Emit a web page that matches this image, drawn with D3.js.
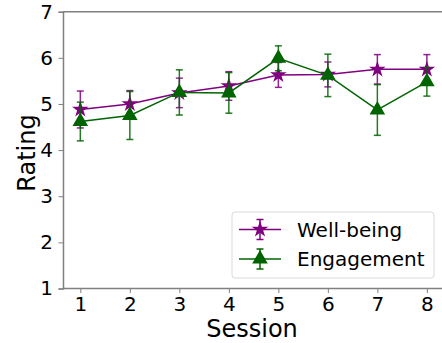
<!DOCTYPE html>
<html><head><meta charset="utf-8">
<script src="https://cdn.jsdelivr.net/npm/d3@7"></script>
<style>body{margin:0;background:#fff}svg{display:block;font-family:"DejaVu Sans",sans-serif}</style>
</head><body>
<svg id="c" width="442" height="343"></svg>
<script>
const sessions = [1,2,3,4,5,6,7,8];
const wellbeing = [4.88,5.00,5.24,5.39,5.63,5.64,5.75,5.75];
const wellbeingErr = [0.40,0.29,0.32,0.31,0.27,0.27,0.32,0.32];
const engagement = [4.62,4.75,5.25,5.24,5.99,5.62,4.87,5.48];
const engagementErr = [0.42,0.52,0.49,0.44,0.27,0.46,0.55,0.31];
const yTicks = [1,2,3,4,5,6,7];
const seriesNames = ["Well-being","Engagement"];

const svg = d3.select("#c");
const x = d3.scaleLinear().domain([0.65,8.35]).range([63,444.2]);
const y = d3.scaleLinear().domain([1,7]).range([288.5,11.7]);
const spine = "#808080";

svg.append("line").attr("x1",63).attr("x2",442).attr("y1",11.7).attr("y2",11.7).attr("stroke",spine).attr("stroke-width",1.5);
const gx = svg.append("g").attr("transform","translate(0,288.5)")
  .call(d3.axisBottom(x).tickValues(sessions).tickSize(4.5).tickPadding(4).tickFormat(d3.format("d")));
const gy = svg.append("g").attr("transform","translate(63,0)")
  .call(d3.axisLeft(y).tickValues(yTicks).tickSize(4.5).tickPadding(5.5).tickFormat(d3.format("d")));
[gx,gy].forEach(g=>{
  g.select(".domain").attr("stroke",spine).attr("stroke-width",1.5);
  g.selectAll(".tick line").attr("stroke",spine).attr("stroke-width",1);
  g.selectAll(".tick text").attr("fill","#000").style("font-size","20px").style("font-family","DejaVu Sans");
});
gx.select(".domain").attr("d","M63,0H442");

svg.append("text").attr("x",252).attr("y",337).attr("text-anchor","middle").style("font-size","24px").text("Session");
svg.append("text").attr("transform","translate(34.5,153) rotate(-90)").attr("text-anchor","middle").style("font-size","24px").text("Rating");

const star = d3.symbol().type(d3.symbolStar).size(85)();
const tri = d3.symbol().type(d3.symbolTriangle).size(105)();

function drawSeries(vals, errs, color, sym){
  const g = svg.append("g");
  sessions.forEach((s,i)=>{
    const xx = x(s), y0 = y(vals[i]-errs[i]), y1 = y(vals[i]+errs[i]);
    g.append("line").attr("x1",xx).attr("x2",xx).attr("y1",y0).attr("y2",y1).attr("stroke",color).attr("stroke-width",1.5).attr("opacity",0.85);
    [y0,y1].forEach(yy=>g.append("line").attr("x1",xx-3.5).attr("x2",xx+3.5).attr("y1",yy).attr("y2",yy).attr("stroke",color).attr("stroke-width",1.5).attr("opacity",0.85));
  });
  g.append("path").datum(sessions.map((s,i)=>[s,vals[i]]))
    .attr("d",d3.line().x(d=>x(d[0])).y(d=>y(d[1])))
    .attr("fill","none").attr("stroke",color).attr("stroke-width",1.5);
  sessions.forEach((s,i)=>{
    g.append("path").attr("d",sym).attr("transform",`translate(${x(s)},${y(vals[i])})`).attr("fill",color);
  });
}
drawSeries(wellbeing, wellbeingErr, "#800080", star);
drawSeries(engagement, engagementErr, "#006400", tri);

const lg = svg.append("g");
lg.append("rect").attr("x",232).attr("y",212).attr("width",202).attr("height",66).attr("rx",3)
  .attr("fill","#fff").attr("fill-opacity",0.8).attr("stroke","#d9d9d9").attr("stroke-width",1);
const cols = ["#800080","#006400"], syms=[star,tri];
seriesNames.forEach((n,i)=>{
  const yy = 229.5 + i*29.5;
  lg.append("line").attr("x1",239).attr("x2",281).attr("y1",yy).attr("y2",yy).attr("stroke",cols[i]).attr("stroke-width",1.5);
  lg.append("line").attr("x1",260).attr("x2",260).attr("y1",yy-10).attr("y2",yy+10).attr("stroke",cols[i]).attr("stroke-width",1.5);
  [yy-10,yy+10].forEach(v=>lg.append("line").attr("x1",256.5).attr("x2",263.5).attr("y1",v).attr("y2",v).attr("stroke",cols[i]).attr("stroke-width",1.5));
  lg.append("path").attr("d",syms[i]).attr("transform",`translate(260,${yy})`).attr("fill",cols[i]);
  lg.append("text").attr("x",297).attr("y",yy+7).style("font-size","20px").text(n);
});
</script>
</body></html>
